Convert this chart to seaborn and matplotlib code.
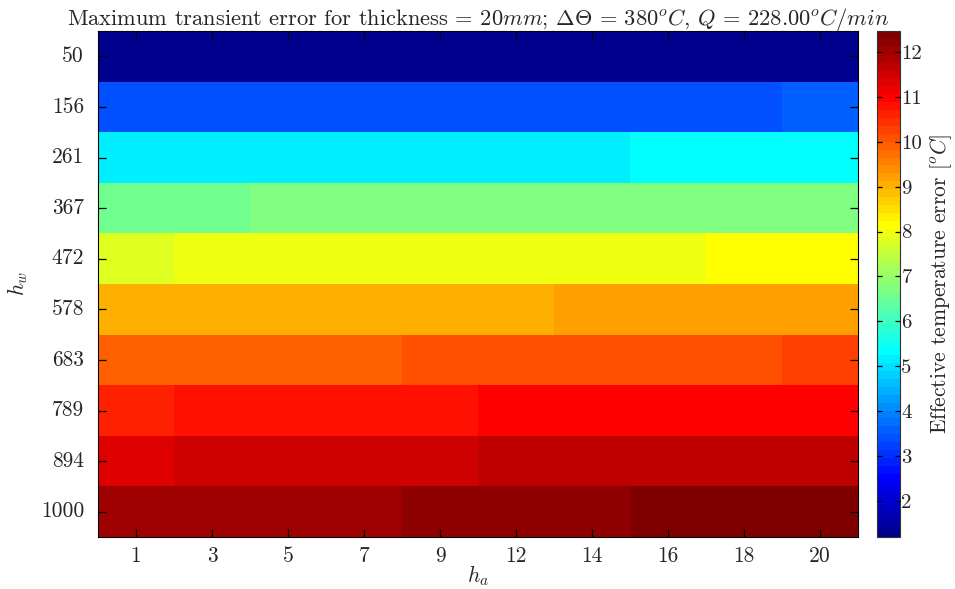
import numpy as np
import pandas as pd
import seaborn as sns
import matplotlib
matplotlib.use("Agg")
import matplotlib.pyplot as plt
from matplotlib.colors import ListedColormap

# Grid of heat-transfer coefficients
h_w = [50, 156, 261, 367, 472, 578, 683, 789, 894, 1000]
h_a = [1, 3, 5, 7, 9, 12, 14, 16, 18, 20]

# Effective temperature error [°C], one list per h_w row (columns follow h_a)
err_hw50 = [1.19, 1.21, 1.22, 1.23, 1.24, 1.25, 1.26, 1.27, 1.28, 1.29]
err_hw156 = [3.36, 3.37, 3.38, 3.39, 3.40, 3.41, 3.42, 3.43, 3.45, 3.52]
err_hw261 = [5.10, 5.12, 5.13, 5.15, 5.17, 5.19, 5.22, 5.27, 5.30, 5.33]
err_hw367 = [6.58, 6.63, 6.67, 6.69, 6.71, 6.73, 6.75, 6.77, 6.79, 6.81]
err_hw472 = [7.85, 7.90, 7.92, 7.94, 7.96, 7.98, 8.00, 8.03, 8.09, 8.12]
err_hw578 = [8.98, 9.00, 9.02, 9.04, 9.06, 9.09, 9.14, 9.17, 9.20, 9.23]
err_hw683 = [9.88, 9.91, 9.94, 9.97, 10.03, 10.06, 10.09, 10.12, 10.15, 10.21]
err_hw789 = [10.66, 10.74, 10.77, 10.80, 10.84, 10.90, 10.93, 10.96, 10.99, 11.02]
err_hw894 = [11.36, 11.44, 11.47, 11.51, 11.55, 11.61, 11.64, 11.67, 11.70, 11.73]
err_hw1000 = [11.98, 12.01, 12.04, 12.08, 12.15, 12.19, 12.24, 12.33, 12.40, 12.47]

rows = [err_hw50, err_hw156, err_hw261, err_hw367, err_hw472,
        err_hw578, err_hw683, err_hw789, err_hw894, err_hw1000]
df = pd.DataFrame(rows, index=h_w, columns=h_a)


def matlab_jet(m=64):
    """Classic 64-level jet colour table."""
    n = int(np.ceil(m / 4))
    u = np.concatenate([np.arange(1, n + 1) / n, np.ones(n - 1), np.arange(n, 0, -1) / n])
    g0 = int(np.ceil(n / 2)) - (1 if m % 4 == 1 else 0) + np.arange(1, len(u) + 1)
    r0 = g0 + n
    b0 = g0 - n
    cmap = np.zeros((m, 3))
    for idx, ch in ((r0, 0), (g0, 1), (b0, 2)):
        keep = (idx >= 1) & (idx <= m)
        cmap[idx[keep] - 1, ch] = u[keep]
    return ListedColormap(cmap)


sns.set_style("white")
plt.rcParams["font.family"] = ["cmr10", "DejaVu Serif"]
plt.rcParams["mathtext.fontset"] = "cm"
plt.rcParams["axes.unicode_minus"] = False
plt.rcParams["axes.axisbelow"] = False

FS = 15.5

fig = plt.figure(figsize=(9.55, 5.89), dpi=100)
ax = fig.add_axes([98 / 955, 1 - 537 / 589, 760 / 955, 506 / 589])
cax = fig.add_axes([877 / 955, 1 - 537 / 589, 23 / 955, 506 / 589])

vmin = float(np.min(rows))
vmax = float(np.max(rows))
sns.heatmap(df, ax=ax, cbar_ax=cax, cmap=matlab_jet(64), vmin=vmin, vmax=vmax,
            linewidths=0, cbar_kws={"ticks": list(range(2, 13))})
ax.set_axisbelow(False)
cax.set_axisbelow(False)

for s in ax.spines.values():
    s.set_visible(True)
    s.set_color("black")
    s.set_linewidth(0.8)

ax.set_yticklabels([str(v) for v in h_w], rotation=0, fontsize=FS)
ax.set_xticklabels([str(v) for v in h_a], rotation=0, fontsize=FS)
ax.tick_params(direction="in", top=True, right=True, bottom=True, left=True,
               length=5.5, width=0.9, color="black")
ax.tick_params(axis="x", pad=7)
ax.tick_params(axis="y", pad=10)
ax.set_xlabel(r"$h_a$", fontsize=FS, labelpad=-2)
ax.set_ylabel(r"$h_w$", fontsize=FS, labelpad=8)
title = ax.set_title(r"Maximum transient error for thickness = $20mm$; "
                     r"$\Delta\Theta$ = $380^oC$, $Q$ = $228.00^oC/min$",
                     fontsize=FS, pad=4)

cb = ax.collections[0].colorbar
cb.outline.set_edgecolor("#333333")
cb.outline.set_linewidth(0.8)
cax.tick_params(direction="in", left=True, right=True, length=3.5, width=0.9,
                labelsize=15, pad=1, color="black")
cax.set_ylabel(r"Effective temperature error $[^oC]$", fontsize=FS, labelpad=4)

# size the title so it spans about 823 px across the plot
fig.canvas.draw()
tw = title.get_window_extent().width
title.set_fontsize(FS * 823.0 / tw)

fig.savefig("out.png", dpi=100)
